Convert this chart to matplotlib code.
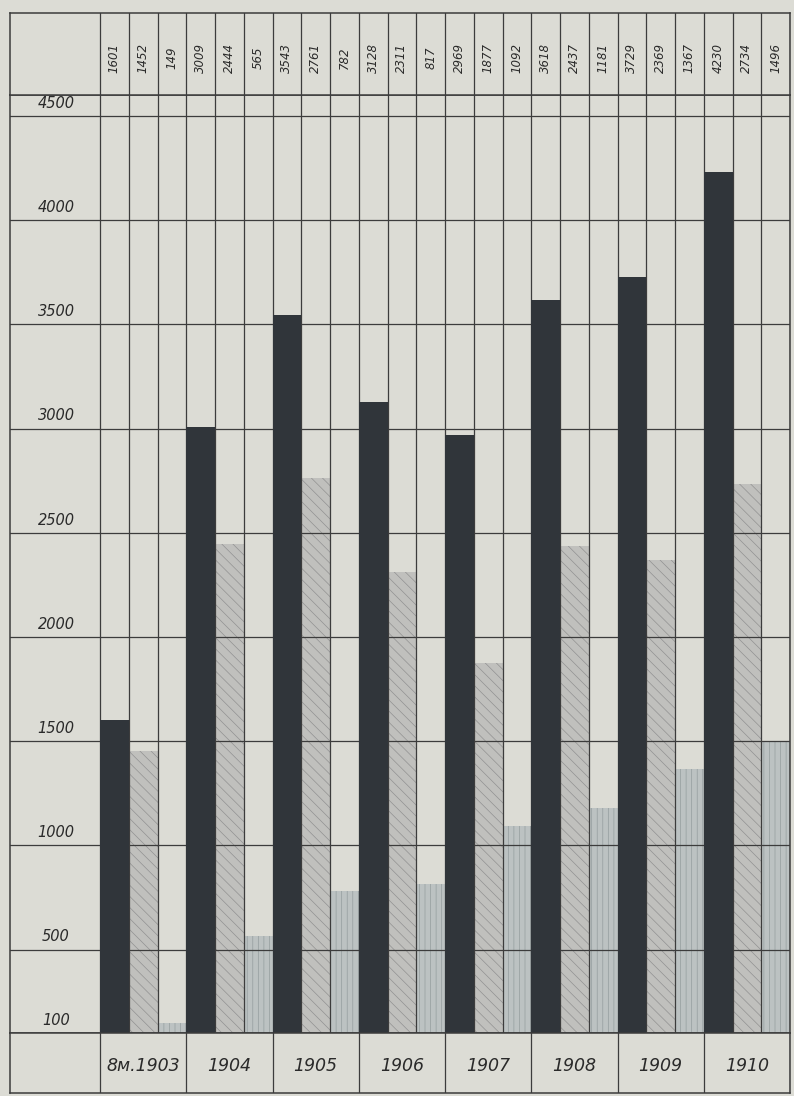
import numpy as np
import matplotlib.pyplot as plt

# data
years = ['8м.1903', '1904', '1905', '1906', '1907', '1908', '1909', '1910']
dark = [1601, 3009, 3543, 3128, 2969, 3618, 3729, 4230]
mid = [1452, 2444, 2761, 2311, 1877, 2437, 2369, 2734]
light = [149, 565, 782, 817, 1092, 1181, 1367, 1496]
yticks = [100, 500, 1000, 1500, 2000, 2500, 3000, 3500, 4000, 4500]

paper = '#dcdcd5'
ink = '#3c3c3c'
W, H = 794, 1096

# table geometry in pixels
X0, XB, X1 = 10, 100, 790
Y_TOP, Y_HEAD, Y_BASE, Y_BOT = 13, 95, 1033, 1093
ncol = 3 * len(years)
colw = (X1 - XB) / ncol
xleft = -0.5 - (XB - X0) / colw
xright = ncol - 0.5


def box(x0, y0, x1, y1):
    return [x0 / W, 1 - y1 / H, (x1 - x0) / W, (y1 - y0) / H]


plt.rcParams['hatch.linewidth'] = 0.5
fig = plt.figure(figsize=(W / 100, H / 100), dpi=100)
fig.patch.set_facecolor(paper)

hand = dict(style='italic', color='#2a2a2a', family='DejaVu Sans')

# main bar area
ax = fig.add_axes(box(X0, Y_HEAD, X1, Y_BASE))
ax.set_facecolor(paper)
ax.set_xlim(xleft, xright)
ax.set_ylim(100, 4600)
ax.set_xticks([])
ax.set_yticks([])
for s in ax.spines.values():
    s.set_color(ink)
    s.set_linewidth(1.1)

x = np.arange(len(years)) * 3
ax.bar(x, dark, width=1, color='#30353a', linewidth=0, zorder=4)
ax.bar(x + 1, mid, width=1, color='#c0c0bd', edgecolor='#929292', hatch='\\\\\\', linewidth=0, zorder=2)
ax.bar(x + 2, light, width=1, color='#bcc2c2', edgecolor='#949d9e', hatch='|||', linewidth=0, zorder=2)

for t in yticks[1:]:
    ax.axhline(t, color=ink, lw=0.9, zorder=3)
for i in range(ncol + 1):
    ax.axvline(i - 0.5, color=ink, lw=0.9, zorder=3)

lab_x = xleft + (56 - X0) / colw
for t in yticks:
    ax.text(lab_x, t + 25, str(t), ha='center', va='bottom', fontsize=10.5, **hand)

# header row with the values
axh = fig.add_axes(box(X0, Y_TOP, X1, Y_HEAD))
axh.set_facecolor(paper)
axh.set_xlim(xleft, xright)
axh.set_ylim(0, 1)
axh.set_xticks([])
axh.set_yticks([])
for s in axh.spines.values():
    s.set_color(ink)
    s.set_linewidth(1.1)
for i in range(ncol + 1):
    axh.axvline(i - 0.5, color=ink, lw=0.9)
vals = []
for d, m, l in zip(dark, mid, light):
    vals += [d, m, l]
for i, v in enumerate(vals):
    axh.text(i, 0.45, str(v), rotation=90, ha='center', va='center', fontsize=8.5, **hand)

# footer row with the years
axf = fig.add_axes(box(X0, Y_BASE, X1, Y_BOT))
axf.set_facecolor(paper)
axf.set_xlim(xleft, xright)
axf.set_ylim(0, 1)
axf.set_xticks([])
axf.set_yticks([])
for s in axf.spines.values():
    s.set_color(ink)
    s.set_linewidth(1.1)
for g in range(len(years) + 1):
    axf.axvline(3 * g - 0.5, color=ink, lw=0.9)
for g, yr in enumerate(years):
    axf.text(3 * g + 1, 0.45, yr, ha='center', va='center', fontsize=12.5, **hand)

fig.savefig('out.png', dpi=100, facecolor=paper)
